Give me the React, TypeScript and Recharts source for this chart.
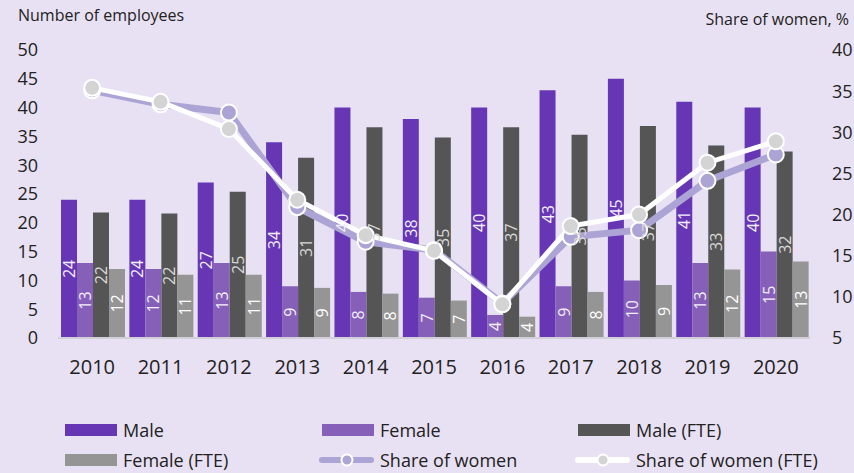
import React from 'react';
import { ComposedChart, Bar, Line, XAxis, YAxis, LabelList } from 'recharts';

const years = ['2010', '2011', '2012', '2013', '2014', '2015', '2016', '2017', '2018', '2019', '2020'];
const male = [24, 24, 27, 34, 40, 38, 40, 43, 45, 41, 40];
const female = [13, 12, 13, 9, 8, 7, 4, 9, 10, 13, 15];
const maleFte = [21.8, 21.6, 25.4, 31.3, 36.6, 34.8, 36.6, 35.3, 36.8, 33.4, 32.4];
const femaleFte = [12, 11, 11, 8.7, 7.7, 6.5, 3.7, 8, 9.2, 11.9, 13.3];
const share = [35.1, 33.4, 32.4, 20.9, 16.7, 15.7, 9.2, 17.3, 18.1, 24.1, 27.3];
const shareFte = [35.4, 33.7, 30.4, 21.8, 17.5, 15.6, 9.1, 18.6, 20.0, 26.3, 28.9];
const leftTicks = [0, 5, 10, 15, 20, 25, 30, 35, 40, 45, 50];
const rightTicks = [5, 10, 15, 20, 25, 30, 35, 40];

const C = {
  bg: '#e8e1f3',
  male: '#6636b5',
  female: '#8660b8',
  maleFte: '#555555',
  femaleFte: '#959595',
  share: '#aca4d4',
  shareFte: '#ffffff',
};

const FONT = "'Open Sans', 'Noto Sans', sans-serif";

const data = years.map((y, i) => ({
  year: y,
  male: male[i],
  female: female[i],
  maleFte: maleFte[i],
  femaleFte: femaleFte[i],
  share: share[i],
  shareFte: shareFte[i],
}));

const makeLabel = (color: string) => (props: any) => {
  const { x, y, width, height, value } = props;
  const cx = x + width / 2;
  const cy = y + height / 2;
  return (
    <text
      x={cx}
      y={cy}
      transform={`rotate(-90 ${cx} ${cy})`}
      textAnchor="middle"
      dominantBaseline="central"
      fill={color}
      fontSize={16}
      fontFamily={FONT}
    >
      {Math.round(value)}
    </text>
  );
};

const dotPurple = (props: any) => (
  <circle key={`p${props.index}`} cx={props.cx} cy={props.cy} r={8} fill={C.share} stroke="#ffffff" strokeWidth={2} />
);
const dotWhite = (props: any) => (
  <circle key={`w${props.index}`} cx={props.cx} cy={props.cy} r={8} fill="#d4d4d4" stroke="#ffffff" strokeWidth={2} />
);

const legendItems = [
  { name: 'Male', color: C.male, type: 'bar' },
  { name: 'Female', color: C.female, type: 'bar' },
  { name: 'Male (FTE)', color: C.maleFte, type: 'bar' },
  { name: 'Female (FTE)', color: C.femaleFte, type: 'bar' },
  { name: 'Share of women', color: C.share, type: 'line', dot: C.share },
  { name: 'Share of women (FTE)', color: C.shareFte, type: 'line', dot: '#d4d4d4' },
];
const colX = [65, 322, 578];
const rowY = [430, 460];

const tickStyle = { fontSize: 18, fill: '#222222', fontFamily: FONT };

export default function App() {
  return (
    <div style={{ position: 'absolute', left: 0, top: 0, width: 854, height: 473, background: C.bg, overflow: 'hidden' }}>
      <div style={{ position: 'absolute', left: 18, top: 4, fontSize: 16, color: '#222', fontFamily: FONT }}>
        Number of employees
      </div>
      <div style={{ position: 'absolute', right: 5, top: 8, fontSize: 16, color: '#222', fontFamily: FONT }}>
        Share of women, %
      </div>
      <ComposedChart
        width={854}
        height={473}
        data={data}
        margin={{ top: 50, right: 0, left: 0, bottom: 85 }}
        barCategoryGap={3}
        barGap={0}
      >
        <XAxis
          dataKey="year"
          tick={{ ...tickStyle, fontSize: 20 }}
          tickLine={false}
          tickSize={0}
          tickMargin={22}
          height={50}
          axisLine={{ stroke: '#d2cfd8', strokeWidth: 2 }}
        />
        <YAxis
          yAxisId="left"
          domain={[0, 50]}
          ticks={leftTicks}
          interval={0}
          width={58}
          tick={tickStyle}
          tickLine={false}
          tickSize={0}
          tickMargin={20}
          axisLine={false}
        />
        <YAxis
          yAxisId="right"
          orientation="right"
          domain={[5, 40]}
          ticks={rightTicks}
          interval={0}
          width={44}
          tick={{ ...tickStyle, textAnchor: 'start' }}
          tickLine={false}
          tickSize={0}
          tickMargin={22}
          axisLine={false}
        />
        <Bar yAxisId="left" dataKey="male" fill={C.male} isAnimationActive={false}>
          <LabelList dataKey="male" content={makeLabel('#f2eefa')} />
        </Bar>
        <Bar yAxisId="left" dataKey="female" fill={C.female} isAnimationActive={false}>
          <LabelList dataKey="female" content={makeLabel('#f2eefa')} />
        </Bar>
        <Bar yAxisId="left" dataKey="maleFte" fill={C.maleFte} isAnimationActive={false}>
          <LabelList dataKey="maleFte" content={makeLabel('#d8d8d8')} />
        </Bar>
        <Bar yAxisId="left" dataKey="femaleFte" fill={C.femaleFte} isAnimationActive={false}>
          <LabelList dataKey="femaleFte" content={makeLabel('#ffffff')} />
        </Bar>
        <Line
          yAxisId="right"
          type="linear"
          dataKey="share"
          stroke={C.share}
          strokeWidth={7}
          dot={dotPurple}
          activeDot={false}
          isAnimationActive={false}
        />
        <Line
          yAxisId="right"
          type="linear"
          dataKey="shareFte"
          stroke={C.shareFte}
          strokeWidth={5}
          dot={dotWhite}
          activeDot={false}
          isAnimationActive={false}
        />
      </ComposedChart>
      {legendItems.map((it, i) => {
        const x = colX[i % 3];
        const y = rowY[Math.floor(i / 3)];
        return (
          <div
            key={it.name}
            style={{ position: 'absolute', left: x, top: y - 12, height: 24, display: 'flex', alignItems: 'center' }}
          >
            {it.type === 'bar' ? (
              <div style={{ width: 52, height: 12, background: it.color }} />
            ) : (
              <svg width={55} height={24} style={{ marginLeft: -3 }}>
                <line x1={3} y1={12} x2={52} y2={12} stroke={it.color} strokeWidth={6} strokeLinecap="round" />
                <circle cx={28} cy={12} r={5.5} fill={it.dot} stroke="#ffffff" strokeWidth={2} />
              </svg>
            )}
            <span
              style={{
                marginLeft: 6,
                fontSize: 18,
                color: '#222',
                fontFamily: FONT,
                whiteSpace: 'nowrap',
              }}
            >
              {it.name}
            </span>
          </div>
        );
      })}
    </div>
  );
}
